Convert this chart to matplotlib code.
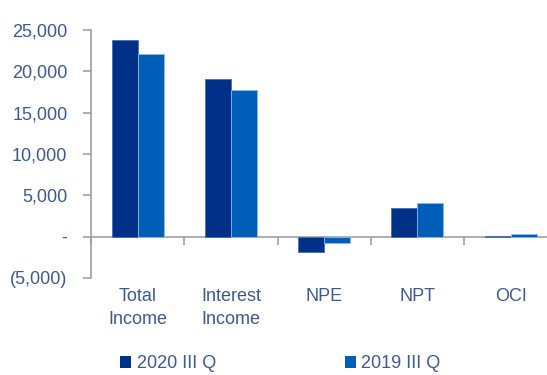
import numpy as np
import matplotlib.pyplot as plt
from matplotlib.patches import Patch
from matplotlib.transforms import blended_transform_factory

categories = ['Total\nIncome', 'Interest\nIncome', 'NPE', 'NPT', 'OCI']
q3_2020 = [23800, 19100, -1800, 3450, 100]
q3_2019 = [22100, 17700, -750, 4050, 300]
series_names = ['2020 III Q', '2019 III Q']
yticks = [-5000, 0, 5000, 10000, 15000, 20000, 25000]
ytick_labels = ['(5,000)', '-', '5,000', '10,000', '15,000', '20,000', '25,000']

dark = '#003087'
light = '#005EB8'
txt = '#3D5A8A'
axis_col = '#A0A0A0'

plt.rcParams['font.family'] = ['Liberation Sans', 'DejaVu Sans']

fig = plt.figure(figsize=(5.47, 3.75), dpi=100)
ax = fig.add_axes([0.1664, 0.2587, 0.8336, 0.6613])

x = np.arange(len(categories))
w = 0.28
ax.bar(x - w / 2, q3_2020, w, color=dark, edgecolor='#4A6FB0', linewidth=0.6, zorder=3)
ax.bar(x + w / 2, q3_2019, w, color=light, edgecolor='#8FB8E8', linewidth=0.6, zorder=3)

ax.set_ylim(-5000, 25000)
ax.set_xlim(-0.5, 4.39)
ax.set_yticks(yticks)
ax.set_yticklabels(ytick_labels)

for s in ['top', 'right']:
    ax.spines[s].set_visible(False)
ax.spines['left'].set_color(axis_col)
ax.spines['bottom'].set_color(axis_col)
ax.spines['bottom'].set_position(('data', 0))
ax.spines['left'].set_linewidth(1.2)
ax.spines['bottom'].set_linewidth(1.2)

ax.set_xticks(np.arange(-0.5, 4.5, 1))
ax.set_xticklabels([])
ax.tick_params(axis='x', direction='out', length=6, color=axis_col, width=1.2)
ax.tick_params(axis='y', direction='out', length=6, color=axis_col, width=1.2,
               labelsize=13, labelcolor=txt, pad=11)

# category names sit below the plot, not at the zero line
tr = blended_transform_factory(ax.transData, ax.transAxes)
for xi, name in zip(x, categories):
    ax.text(xi, -0.04, name, transform=tr, ha='center', va='top',
            fontsize=13, color=txt, linespacing=1.45)

handles = [Patch(facecolor=dark), Patch(facecolor=light)]
fig.legend(handles, series_names, loc='center left', bbox_to_anchor=(0.197, 0.03),
           ncol=2, frameon=False, fontsize=13, labelcolor=txt,
           handlelength=0.6, handleheight=0.6, handletextpad=0.3, columnspacing=7.15,
           borderpad=0.2)

fig.savefig('out.png', dpi=100)
